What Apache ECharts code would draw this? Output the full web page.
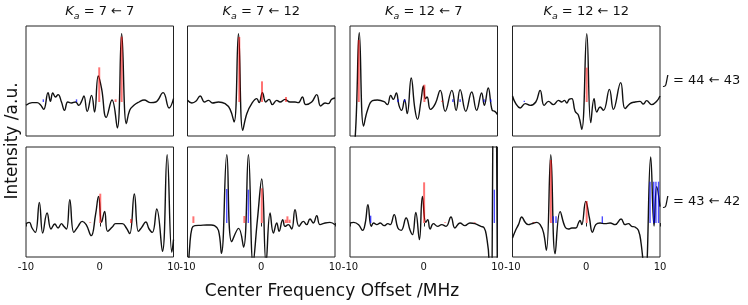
<!DOCTYPE html>
<html><head><meta charset="utf-8">
<script src="https://cdn.jsdelivr.net/npm/echarts@6/dist/echarts.min.js"></script>
<style>html,body{margin:0;padding:0;background:#fff}#c{width:748px;height:305px}</style>
</head><body><div id="c"></div>
<script>
// ---- data ----
const xTicks = [-10, 0, 10];
const colTitles = ['7 ← 7', '7 ← 12', '12 ← 7', '12 ← 12'];
const rowLabels = ['44 ← 43', '43 ← 42'];
const xLabel = 'Center Frequency Offset /MHz';
const yLabel = 'Intensity /a.u.';

// spectra [offset MHz, intensity a.u.]
const specA = [[-10,-0.05],[-9.18,-0.01],[-8.5,-0.01],[-8.05,-0.04],[-7.6,-0.11],[-7.01,0.14],[-6.69,0.01],[-6.37,0.135],[-6.01,0.075],[-5.65,0.11],[-5.19,0],[-4.78,-0.125],[-4.33,0],[-3.83,-0.015],[-3.29,0],[-2.83,-0.05],[-2.47,0.01],[-2.15,0.09],[-1.7,-0.14],[-1.11,0.1],[-0.7,-0.15],[-0.2,0.39],[0.25,0.2],[0.88,-0.23],[1.66,0.03],[2.38,-0.39],[2.97,1.025],[3.61,-0.325],[4.06,-0.125],[4.63,-0.05],[5.33,0],[6.01,0.03],[6.92,-0.01],[7.6,0],[8.59,0.14],[9.41,-0.09],[10,0.05]];
const specB = [[-10,0.025],[-9.41,-0.015],[-8.87,0.01],[-8.28,0.09],[-7.7,0],[-7.16,0.025],[-6.61,-0.015],[-5.8,0],[-4.9,-0.025],[-4.22,-0.11],[-3.68,-0.3],[-3.09,1.025],[-2.51,-0.425],[-1.96,-0.175],[-1.29,-0.025],[-0.61,0.05],[-0.29,-0.01],[0.16,0.14],[0.61,0],[1.06,0.04],[1.51,-0.04],[2.1,0.025],[2.55,0],[3.23,0.04],[3.91,0],[4.58,0],[5.03,-0.01],[5.58,0.075],[6.03,-0.04],[6.84,0],[7.52,0.11],[8.06,-0.06],[8.65,-0.015],[9.1,-0.025],[9.55,0.04],[10,0.06]];
const specC = [[-10,-1.2],[-9.28,-0.5],[-8.74,1.04],[-8.16,-0.36],[-7.62,-0.12],[-6.95,0.02],[-6.28,0.03],[-5.38,0.005],[-4.93,-0.04],[-4.48,0.1],[-4.13,0.04],[-3.72,0.135],[-3.36,-0.05],[-3.0,-0.125],[-2.6,0.035],[-2.24,-0.175],[-1.7,0.36],[-1.21,-0.1],[-0.85,-0.26],[-0.4,0],[-0.04,0.24],[0.22,0.05],[0.45,0.075],[0.9,-0.11],[1.57,-0.025],[2.24,0.175],[2.91,-0.14],[3.81,0.175],[4.39,-0.125],[4.93,0.185],[5.7,-0.14],[6.5,0.15],[7.17,-0.125],[7.85,0.135],[8.21,-0.05],[8.74,0.21],[9.28,-0.125],[9.64,-0.14],[10,-0.19]];
const specD = [[-10,0.09],[-9.55,-0.025],[-8.96,-0.09],[-8.28,-0.025],[-7.61,-0.05],[-6.84,0],[-6.25,0.175],[-5.71,-0.05],[-5.12,0.01],[-4.45,-0.04],[-3.77,0.025],[-3.32,0],[-2.96,0.025],[-2.64,-0.015],[-2.32,0.04],[-1.96,0.05],[-1.51,-0.14],[-1.06,-0.2],[-0.61,-0.41],[0.07,1.025],[0.61,-0.31],[1.06,0.05],[1.42,-0.15],[1.87,-0.075],[2.33,-0.125],[3.14,0.19],[3.68,-0.11],[4.67,0.29],[5.26,-0.1],[5.94,-0.025],[6.61,0],[7.29,0.01],[7.74,-0.03],[8.19,0.02],[8.87,-0.04],[9.55,0.01],[10,0.09]];
const specE = [[-10,-0.01],[-9.55,0.01],[-9.18,-0.075],[-8.73,-0.14],[-8.19,0.31],[-7.73,-0.15],[-7.14,0.15],[-6.6,-0.09],[-6.1,-0.015],[-5.65,-0.075],[-5.19,-0.01],[-4.88,-0.05],[-4.51,-0.09],[-4.06,0.35],[-3.51,-0.14],[-2.93,-0.05],[-2.38,0.025],[-1.84,-0.025],[-1.16,-0.19],[-0.57,0.125],[-0.16,0.4],[0.25,0.01],[0.66,0.175],[1.07,-0.125],[1.7,-0.06],[2.15,-0.01],[3.06,-0.01],[3.61,-0.075],[4.06,-0.16],[4.69,0.435],[5.24,-0.125],[5.69,-0.065],[6.24,0.015],[6.69,-0.09],[7.14,-0.14],[7.73,0.21],[8.5,-0.425],[9.14,1.025],[9.77,-0.44],[10,-0.25]];
const specF = [[-10,-0.9],[-9.7,-0.35],[-9.4,-0.08],[-9.0,-0.04],[-8.2,-0.035],[-7.4,-0.03],[-6.79,-0.03],[-6.34,-0.04],[-5.8,-0.11],[-5.4,-0.455],[-4.67,1.025],[-4.0,-0.28],[-3.07,-0.08],[-2.4,-0.36],[-1.74,1.025],[-1.11,-0.6],[-0.52,0.05],[0.07,0.66],[0.65,-0.6],[1.2,0.15],[1.65,-0.15],[2.1,0],[2.42,-0.125],[2.91,0.05],[3.23,-0.05],[3.68,-0.025],[4.13,-0.09],[4.58,0.2],[5.12,-0.05],[5.71,0.025],[6.16,-0.025],[6.61,0.06],[7.07,0],[7.52,0.11],[7.97,-0.025],[8.65,0],[9.32,0.01],[10,-0.025]];
const specG = [[-10,0],[-9.5,0.01],[-8.83,-0.025],[-8.29,-0.11],[-7.93,0],[-7.57,0.275],[-7.12,-0.05],[-6.8,0],[-6.35,-0.025],[-5.9,0],[-5.36,-0.04],[-4.86,-0.01],[-4.55,-0.025],[-4.01,0.125],[-3.51,-0.075],[-3.06,-0.11],[-2.39,0.075],[-1.85,-0.11],[-1.53,-0.175],[-1.08,0.16],[-0.59,-0.25],[-0.18,0.4],[0.27,0.01],[0.54,0.05],[0.86,-0.09],[1.31,-0.01],[1.89,-0.05],[2.43,-0.025],[3.02,-0.05],[3.69,0.09],[4.23,-0.075],[4.91,0],[5.59,-0.04],[6.26,0],[6.94,-0.01],[7.75,-0.05],[8.2,-0.075],[8.51,-0.2],[8.83,-0.525],[9.05,-2.5],[9.58,3.5],[10.05,-2.5]];
const specH = [[-10,-0.225],[-9.55,-0.1],[-9.19,-0.025],[-8.74,0.09],[-8.28,0.01],[-7.83,-0.025],[-7.38,-0.01],[-6.7,0.01],[-6.25,-0.025],[-5.8,-0.14],[-5.4,-0.41],[-4.81,1.025],[-4.22,-0.46],[-3.54,0.17],[-2.87,-0.06],[-2.42,-0.09],[-1.96,-0.075],[-1.42,-0.075],[-1.06,0],[-0.84,0.04],[-0.61,-0.025],[-0.07,0.325],[0.43,0.075],[0.84,-0.14],[1.29,-0.025],[1.87,0],[2.55,-0.01],[3.23,0],[3.91,-0.025],[4.72,0.06],[5.26,-0.025],[5.71,-0.01],[6.16,-0.05],[6.61,-0.06],[7.07,-0.11],[7.43,-0.3],[8.0,-0.85],[8.74,0.99],[9.19,-0.045],[9.55,0.545],[10,0.245]];

// predicted transitions [offset MHz, intensity a.u.]
const redA = [[-0.07,0.52],[2.15,0.04],[2.97,0.98]];
const blueA = [[-7.65,0.04],[-3.15,0.04]];
const redB = [[-2.98,0.975],[0.1,0.31],[3.36,0.075]];
const blueB = [];
const redC = [[-8.81,0.93],[0.09,0.26],[2.5,0.02]];
const blueC = [[-3.49,0.04],[-2.59,0.04],[3.94,0.04],[4.93,0.04],[8.18,0.04],[9.08,0.04]];
const redD = [[0.06,0.515]];
const blueD = [[-8.4,0.02]];
const redE = [[0.07,0.44],[4.24,0.06],[-1.3,0.01]];
const blueE = [];
const redF = [[-9.2,0.1],[-2.29,0.105],[0.07,0.52],[3.3,0.05],[3.55,0.1],[3.85,0.05]];
const blueF = [[-4.68,0.51],[-1.75,0.5]];
const redG = [[0.05,0.61],[2.9,0.01],[6.9,0.01]];
const blueG = [[-7.2,0.11],[9.57,0.5]];
const redH = [[-4.8,0.945],[0.06,0.33],[-7.1,0.01]];
const blueH = [[-4.47,0.1],[-4.1,0.1],[2.18,0.1],[8.65,0.62],[9.15,0.62],[9.45,0.62],[9.8,0.62]];

const spectra = [specA, specB, specC, specD, specE, specF, specG, specH];
const reds = [redA, redB, redC, redD, redE, redF, redG, redH];
const blues = [blueA, blueB, blueC, blueD, blueE, blueF, blueG, blueH];

// ---- layout ----
const FONT = 'DejaVu Sans';
const lefts = [26, 187.5, 350, 512.5];
const tops = [26, 147];
const W = 147.5, H = 110;
const yMin = -0.51, yMax = 1.14;

const grid = [], xAxis = [], yAxis = [], series = [];
for (let r = 0; r < 2; r++) {
  for (let c = 0; c < 4; c++) {
    const i = r * 4 + c;
    grid.push({left: lefts[c], top: tops[r], width: W, height: H, show: true,
      borderColor: '#222', borderWidth: 1, backgroundColor: 'transparent'});
    xAxis.push({type: 'value', gridIndex: i, min: xTicks[0], max: xTicks[2], interval: 10,
      axisLine: {show: false}, splitLine: {show: false},
      axisTick: {show: r === 1, length: 3.5, lineStyle: {color: '#222'}},
      axisLabel: {show: r === 1, margin: 5, color: '#111', fontSize: 10, fontFamily: FONT,
        showMinLabel: true, showMaxLabel: true, formatter: v => String(v)}});
    yAxis.push({type: 'value', gridIndex: i, min: yMin, max: yMax,
      axisLine: {show: false}, axisTick: {show: false}, axisLabel: {show: false}, splitLine: {show: false}});
    series.push({type: 'line', xAxisIndex: i, yAxisIndex: i, data: spectra[i],
      showSymbol: false, smooth: 0.45, clip: true, z: 2, silent: true,
      lineStyle: {color: '#111', width: 1.4}});
    const stick = (data, color, w) => ({type: 'custom', xAxisIndex: i, yAxisIndex: i, data, z: 3, clip: true, silent: true,
      renderItem(params, api) {
        const p0 = api.coord([api.value(0), 0]);
        const p1 = api.coord([api.value(0), api.value(1)]);
        return {type: 'line', shape: {x1: p0[0], y1: p0[1], x2: p1[0], y2: p1[1]},
          style: {stroke: color, lineWidth: w}};
      }});
    series.push(stick(reds[i], 'rgba(255,0,0,0.55)', 2));
    series.push(stick(blues[i], 'rgba(0,0,255,0.7)', 1.4));
  }
}

const graphic = [];
const richBase = {
  i: {fontFamily: FONT, fontStyle: 'italic', fontSize: 13, lineHeight: 20, fill: '#111'},
  s: {fontFamily: FONT, fontStyle: 'italic', fontSize: 9.5, lineHeight: 10, verticalAlign: 'bottom', fill: '#111'},
  n: {fontFamily: FONT, fontSize: 13, lineHeight: 20, fill: '#111'}
};
colTitles.forEach((t, c) => {
  graphic.push({type: 'text', x: lefts[c] + W / 2, y: 12, silent: true,
    style: {text: '{i|K}{s|a}{n| = ' + t + '}', rich: richBase, align: 'center', verticalAlign: 'middle'}});
});
rowLabels.forEach((t, r) => {
  graphic.push({type: 'text', x: 665, y: tops[r] + H / 2, silent: true,
    style: {text: '{i|J}{n| = ' + t + '}', rich: richBase, align: 'left', verticalAlign: 'middle'}});
});
graphic.push({type: 'text', x: 332, y: 292, silent: true,
  style: {text: xLabel, font: '17px "' + FONT + '"', fill: '#111', align: 'center', verticalAlign: 'middle'}});
graphic.push({type: 'text', x: 13, y: 141, rotation: Math.PI / 2, silent: true,
  style: {text: yLabel, font: '17px "' + FONT + '"', fill: '#111', align: 'center', verticalAlign: 'middle'}});

const chart = echarts.init(document.getElementById('c'), null, {renderer: 'canvas'});
chart.setOption({animation: false, backgroundColor: '#fff', grid, xAxis, yAxis, series, graphic});
</script></body></html>
